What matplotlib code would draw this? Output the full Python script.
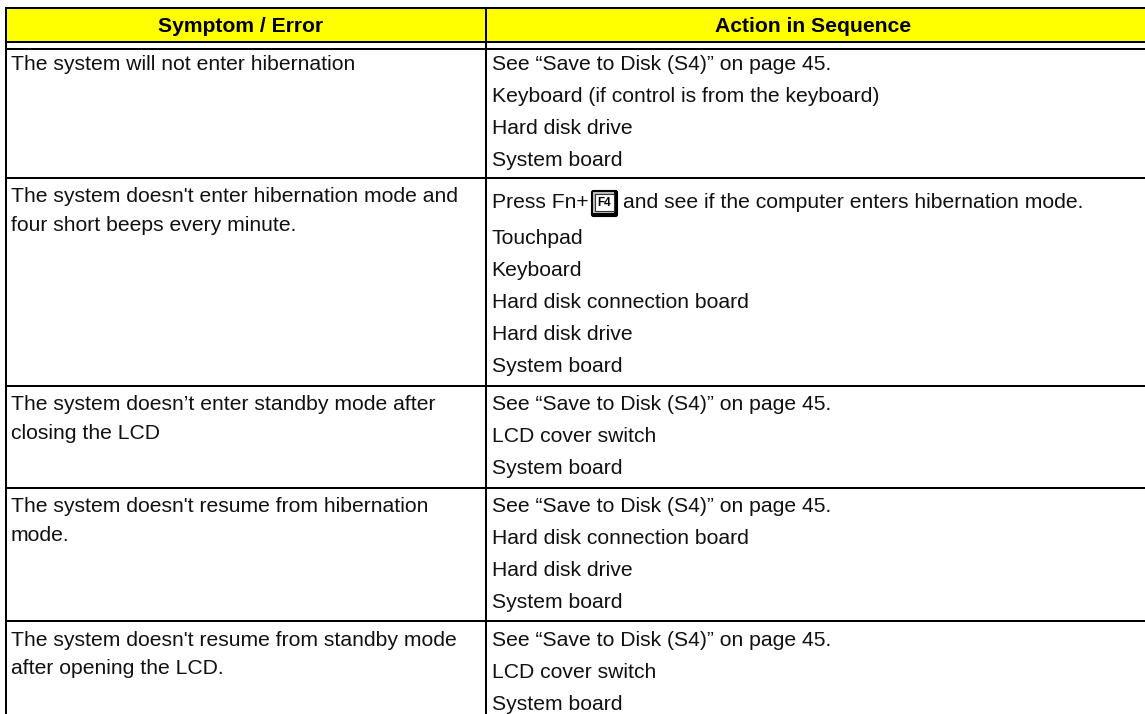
import matplotlib
matplotlib.use('Agg')
from matplotlib import pyplot as plt
from matplotlib.patches import Rectangle, FancyBboxPatch

plt.rcParams['font.family'] = ['Liberation Sans', 'DejaVu Sans']

W, H = 1145, 714

headers = ['Symptom / Error', 'Action in Sequence']

symptoms = [
    ['The system will not enter hibernation'],
    ["The system doesn't enter hibernation mode and", 'four short beeps every minute.'],
    ['The system doesn’t enter standby mode after', 'closing the LCD'],
    ["The system doesn't resume from hibernation", 'mode.'],
    ["The system doesn't resume from standby mode", 'after opening the LCD.'],
]
actions = [
    ['See “Save to Disk (S4)” on page 45.', 'Keyboard (if control is from the keyboard)', 'Hard disk drive', 'System board'],
    ['KEY', 'Touchpad', 'Keyboard', 'Hard disk connection board', 'Hard disk drive', 'System board'],
    ['See “Save to Disk (S4)” on page 45.', 'LCD cover switch', 'System board'],
    ['See “Save to Disk (S4)” on page 45.', 'Hard disk connection board', 'Hard disk drive', 'System board'],
    ['See “Save to Disk (S4)” on page 45.', 'LCD cover switch', 'System board'],
]
row_tops = [49, 178, 386, 488, 621]
first_line = [15.5, 18.5, 18.5, 18.5, 19]

fig = plt.figure(figsize=(W / 100, H / 100), dpi=100)
ax = fig.add_axes([0, 0, 1, 1])
ax.set_xlim(0, W)
ax.set_ylim(H, 0)
ax.axis('off')

lw = 2 * 72 / 100
ax.add_patch(Rectangle((6, 8), W, 34, fc='#ffff00', ec='none'))
for y in [8, 42] + row_tops:
    ax.plot([6, W], [y, y], color='black', lw=lw, solid_capstyle='butt')
for x in [6, 486]:
    ax.plot([x, x], [7, H], color='black', lw=lw, solid_capstyle='butt')

fs = 15.25
txt = '#111111'
ax.text(241, 26.5, headers[0], ha='center', va='center', fontsize=fs, fontweight='bold')
ax.text(813, 26.5, headers[1], ha='center', va='center', fontsize=fs, fontweight='bold')

for top, off, sym, act in zip(row_tops, first_line, symptoms, actions):
    for i, line in enumerate(sym):
        ax.text(11, top + off + i * 28.7, line, ha='left', va='center', fontsize=fs, color=txt)
    for i, line in enumerate(act):
        if line == 'KEY':
            y = 203
            ax.text(491.5, y, 'Press Fn+', ha='left', va='center', fontsize=fs, color=txt)
            # F4 key icon
            ax.add_patch(FancyBboxPatch((591.5, 190.5), 26, 26, boxstyle='round,pad=0,rounding_size=2',
                                        fc='black', ec='black', lw=0.8))
            ax.add_patch(Rectangle((593, 192), 21, 21, fc='#bbbbbb', ec='none'))
            ax.add_patch(Rectangle((595, 194), 19, 17, fc='white', ec='#333333', lw=0.8))
            ax.text(604.5, 203, 'F4', ha='center', va='center', fontsize=8.5, fontweight='bold')
            ax.text(623, y, 'and see if the computer enters hibernation mode.', ha='left', va='center',
                    fontsize=fs, color=txt)
        else:
            y = top + off + i * 32
            if act[0] == 'KEY':
                y = 238 + (i - 1) * 32
            ax.text(491.5, y, line, ha='left', va='center', fontsize=fs, color=txt)

fig.savefig('out.png', dpi=100)
